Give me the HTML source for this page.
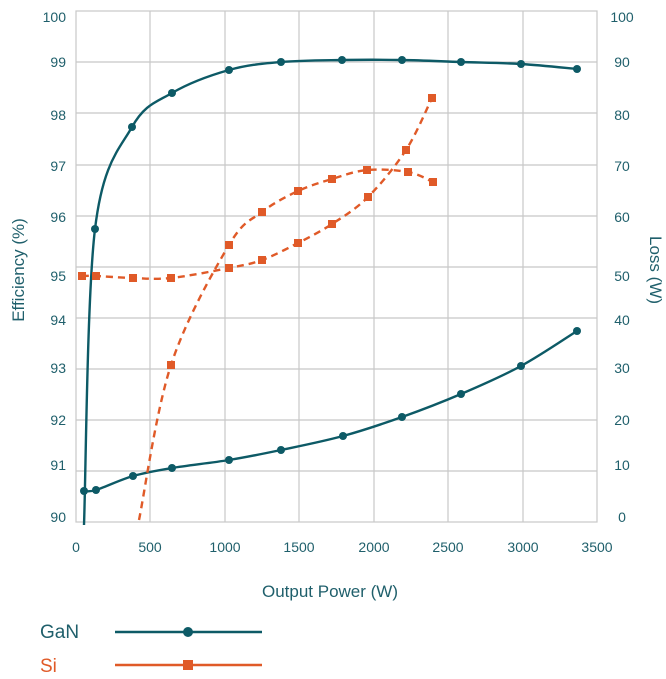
<!DOCTYPE html>
<html><head><meta charset="utf-8"><style>
body{margin:0;background:#fff;}
svg{display:block;font-family:"Liberation Sans",sans-serif;}
</style></head><body>
<svg id="s" width="666" height="679" viewBox="0 0 666 679">
<rect width="666" height="679" fill="#fff"/>
<g stroke="#c8c8c8" stroke-width="1.2" fill="none">
<rect x="76" y="11" width="521" height="511"/>
<path d="M150,11V522M225,11V522M299,11V522M374,11V522M448,11V522M523,11V522"/>
<path d="M76,62H597M76,113H597M76,165H597M76,216H597M76,267H597M76,318H597M76,369H597M76,420H597M76,471H597"/>
</g>
<g fill="#1f5f6b" font-size="14" text-anchor="end">
<text x="66" y="22">100</text><text x="66" y="67">99</text><text x="66" y="120">98</text><text x="66" y="171">97</text><text x="66" y="222">96</text><text x="66" y="281">95</text><text x="66" y="325">94</text><text x="66" y="373">93</text><text x="66" y="425">92</text><text x="66" y="470">91</text><text x="66" y="522">90</text>
</g>
<g fill="#1f5f6b" font-size="14" text-anchor="middle">
<text x="622" y="22">100</text><text x="622" y="67">90</text><text x="622" y="120">80</text><text x="622" y="171">70</text><text x="622" y="222">60</text><text x="622" y="281">50</text><text x="622" y="325">40</text><text x="622" y="373">30</text><text x="622" y="425">20</text><text x="622" y="470">10</text><text x="622" y="522">0</text>
<text x="76" y="552">0</text><text x="150" y="552">500</text><text x="225" y="552">1000</text><text x="299" y="552">1500</text><text x="374" y="552">2000</text><text x="448" y="552">2500</text><text x="523" y="552">3000</text><text x="597" y="552">3500</text>
<text x="330" y="597" font-size="17">Output Power (W)</text>
<text transform="translate(24,270) rotate(-90)" font-size="17">Efficiency (%)</text>
<text transform="translate(650,270) rotate(90)" font-size="17">Loss (W)</text>
</g>
<g id="series"></g>
<text x="40" y="638" font-size="19" fill="#1f5f6b">GaN</text>
<line x1="115" y1="632" x2="262" y2="632" stroke="#0d5a66" stroke-width="2.5"/>
<circle cx="188" cy="632" r="5" fill="#0d5a66"/>
<text x="40" y="672" font-size="19" fill="#e05a28">Si</text>
<line x1="115" y1="665" x2="262" y2="665" stroke="#e05a28" stroke-width="2.5"/>
<rect x="183" y="660" width="10" height="10" fill="#e05a28"/>
</svg>
<script>
function cr(p){let d="M"+p[0].join(",");for(let i=0;i<p.length-1;i++){const a=p[i-1]||p[i],b=p[i],c=p[i+1],e=p[i+2]||c;
d+=`C${b[0]+(c[0]-a[0])/6},${b[1]+(c[1]-a[1])/6} ${c[0]-(e[0]-b[0])/6},${c[1]-(e[1]-b[1])/6} ${c[0]},${c[1]}`;}return d;}
const G="#0d5a66",O="#e05a28";
const S=[
{c:G,dash:"",m:"c",p:[[84,525],[95,229],[132,127],[172,93],[229,70],[281,62],[342,60],[402,60],[461,62],[521,64],[577,69]],skip:[0]},
{c:G,dash:"",m:"c",p:[[84,491],[96,490],[133,476],[172,468],[229,460],[281,450],[343,436],[402,417],[461,394],[521,366],[577,331]]},
{c:O,dash:"7,5",m:"s",p:[[82,276],[96,276],[133,278],[171,278],[229,268],[262,260],[298,243],[332,224],[368,197],[406,150],[432,98]]},
{c:O,dash:"7,5",m:"s",p:[[139,520],[171,365],[229,245],[262,212],[298,191],[332,179],[367,170],[408,172],[433,182]],skip:[0]}
];
let h="";
S.forEach(s=>{h+=`<path d="${cr(s.p)}" fill="none" stroke="${s.c}" stroke-width="2.4" stroke-dasharray="${s.dash}"/>`;
s.p.forEach((q,i)=>{if(s.skip&&s.skip.includes(i))return;
h+=s.m=="c"?`<circle cx="${q[0]}" cy="${q[1]}" r="4" fill="${s.c}"/>`:`<rect x="${q[0]-4}" y="${q[1]-4}" width="8" height="8" fill="${s.c}"/>`;});});
document.getElementById("series").innerHTML=h;
</script>
</body></html>
